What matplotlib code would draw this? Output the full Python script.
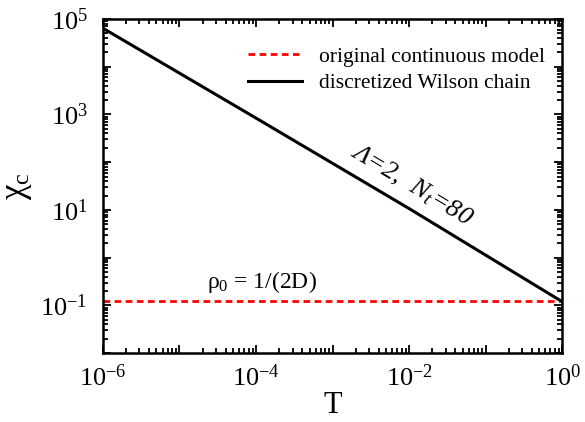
import numpy as np
import matplotlib
matplotlib.use("Agg")
import matplotlib.pyplot as plt
from matplotlib.ticker import LogLocator, FuncFormatter, NullFormatter

plt.rcParams["font.family"] = ["Liberation Serif", "DejaVu Serif"]
plt.rcParams["mathtext.fontset"] = "custom"
plt.rcParams["mathtext.rm"] = "Liberation Serif"
plt.rcParams["mathtext.it"] = "Liberation Serif:italic"
plt.rcParams["mathtext.bf"] = "Liberation Serif:bold"

# data
T_wilson = [1e-6, 1e-4, 1e-2, 1e0]
chi_wilson = [6.4e4, 8.4e2, 1.07e1, 1.2e-1]
T_cont = [1e-6, 1e0]
chi_cont = [0.125, 0.125]

fig = plt.figure(figsize=(5.85, 4.22), dpi=100)
ax = fig.add_axes([0.176, 0.163, 0.785, 0.792])

ax.plot(T_cont, chi_cont, color="red", lw=2.0, dashes=(2.4, 1.6),
        label="original continuous model")
ax.plot(T_wilson, chi_wilson, color="black", lw=2.2,
        label="discretized Wilson chain")

ax.set_xscale("log")
ax.set_yscale("log")
ax.set_xlim(1e-6, 1e0)
ax.set_ylim(1e-2, 1e5)

def even_only(v, pos):
    e = int(round(np.log10(v)))
    if e % 2 == 0:
        return r"$\mathdefault{10^{%d}}$" % e
    return ""

def odd_only(v, pos):
    e = int(round(np.log10(v)))
    if e % 2 != 0:
        return r"$\mathdefault{10^{%d}}$" % e
    return ""

ax.xaxis.set_major_locator(LogLocator(base=10, numticks=20))
ax.xaxis.set_minor_locator(LogLocator(base=10, subs=np.arange(2, 10), numticks=20))
ax.yaxis.set_major_locator(LogLocator(base=10, numticks=20))
ax.yaxis.set_minor_locator(LogLocator(base=10, subs=np.arange(2, 10), numticks=20))
ax.xaxis.set_major_formatter(FuncFormatter(even_only))
ax.yaxis.set_major_formatter(FuncFormatter(odd_only))
ax.xaxis.set_minor_formatter(NullFormatter())
ax.yaxis.set_minor_formatter(NullFormatter())

ax.tick_params(which="both", direction="in", top=True, right=True,
               labelsize=19, width=1.3)
ax.tick_params(which="major", length=6)
ax.tick_params(which="minor", length=3.5)
ax.tick_params(axis="x", which="major", pad=8)
ax.tick_params(axis="y", which="major", pad=11)
for s in ax.spines.values():
    s.set_linewidth(1.8)

ax.set_xlabel("T", fontsize=22, labelpad=0)
ax.set_ylabel(r"χ$_\mathrm{c}$", fontsize=25, labelpad=5)

ax.text(1.07e-2, 33, r"Λ=2,  $N_t$=80", fontsize=19, style="italic",
        rotation=-31, rotation_mode="anchor", ha="center", va="center")
ax.text(1.2e-4, 0.23, r"ρ$_0$ = 1/(2D)", fontsize=17, ha="center",
        va="baseline")

ax.legend(loc="upper right", frameon=False, fontsize=15.5,
          handlelength=2.5, handletextpad=0.8, labelspacing=0.3,
          bbox_to_anchor=(1.005, 0.975))

fig.savefig("out.png", dpi=100)
